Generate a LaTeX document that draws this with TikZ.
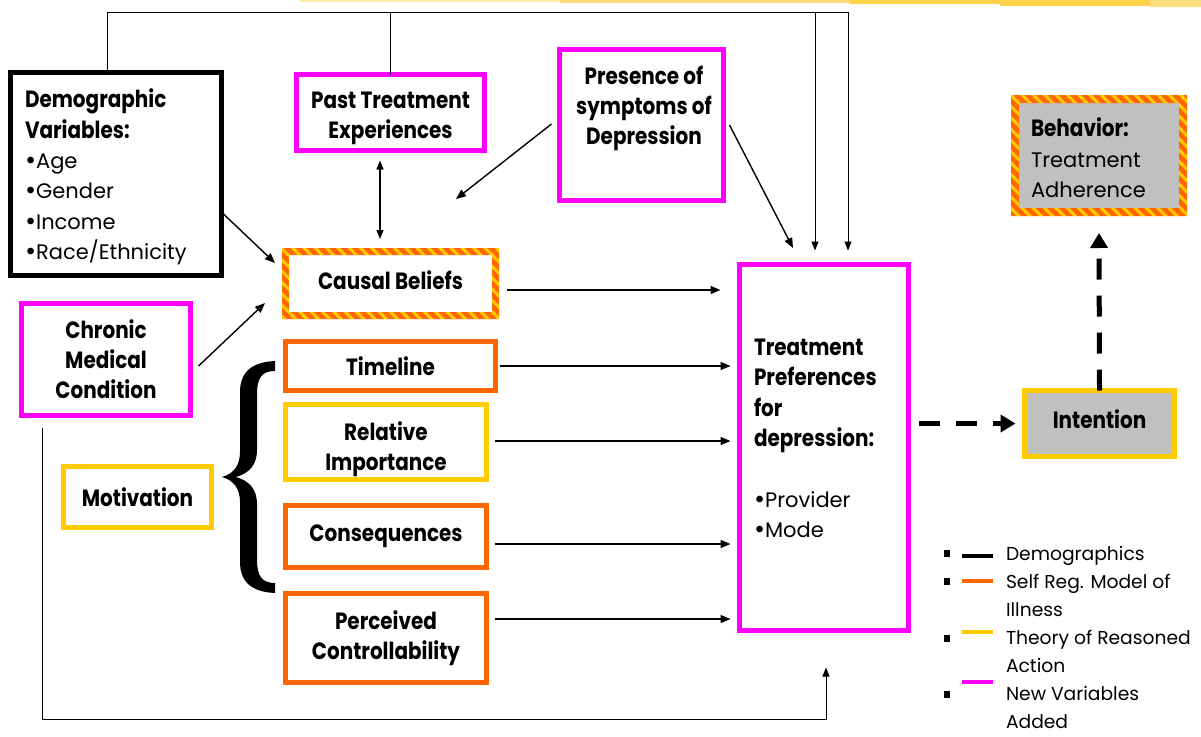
\documentclass[tikz,border=0pt]{standalone}
\usepackage{fontspec}
\setmainfont{Poppins}[FakeStretch=0.85]
\newfontfamily\regfam{Poppins}
\usetikzlibrary{arrows.meta,patterns.meta}
\definecolor{mag}{HTML}{FF00FF}
\definecolor{orng}{HTML}{FF6600}
\definecolor{yel}{HTML}{FFCC00}
\definecolor{gry}{HTML}{C0C0C0}
\definecolor{streak}{HTML}{FFD24A}
\newcommand\lblfont{\rmfamily\bfseries\fontsize{23.5}{30}\selectfont}
\newcommand\regfont{\regfam\fontsize{21}{30.4}\selectfont}
\newcommand\legfont{\regfam\fontsize{18.7}{28.3}\selectfont}
\newcommand\bul{\raisebox{-1pt}{\fontsize{27}{30}\selectfont\textbullet}}
\newcommand\stripeframe[2]{%
  \fill[orng, even odd rule] (#1.north west) rectangle (#1.south east)
    ([xshift=#2,yshift=-#2]#1.north west) rectangle ([xshift=-#2,yshift=#2]#1.south east);
  \fill[pattern={Lines[angle=-45,distance=8pt,line width=3pt]}, pattern color=yel, even odd rule]
    (#1.north west) rectangle (#1.south east)
    ([xshift=#2,yshift=-#2]#1.north west) rectangle ([xshift=-#2,yshift=#2]#1.south east);}
\tikzset{
  every node/.style={inner sep=0pt, outer sep=0pt},
  bx/.style={draw, line width=5pt, align=center, font=\lblfont},
  magbox/.style={bx, draw=mag},
  orbox/.style={bx, draw=orng},
  yelbox/.style={bx, draw=yel},
  txt/.style={align=center, font=\lblfont},
  arr/.style={line width=1.4pt, -{Triangle[length=10pt,width=8pt]}},
  thin/.style={line width=1pt},
  thinarr/.style={line width=1pt, -{Triangle[length=9pt,width=7pt]}},
  dbl/.style={line width=1.2pt, {Triangle[length=9pt,width=7pt]}-{Triangle[length=9pt,width=7pt]}},
  dasharr/.style={line width=5pt, dash pattern=on 21pt off 16pt, -{Triangle[length=15pt,width=17pt]}},
  legline/.style={line width=4pt},
  legsq/.style={fill=black, minimum width=6pt, minimum height=7pt},
  legtxt/.style={font=\legfont, align=left, anchor=north west},
}
\begin{document}
\begin{tikzpicture}[x=1pt,y=-1pt]
\useasboundingbox[fill=white] (0,0) rectangle (1201,736);
% decorative streak at top
\fill[streak!50] (300,0) rectangle (560,2);
\fill[streak!75] (560,0) rectangle (850,3);
\fill[streak] (850,0) rectangle (1201,4);
\fill[streak] (1000,0) rectangle (1201,6);
\fill[streak!70] (1150,0) rectangle (1201,7);

% boxes
\node[bx, draw=black, minimum width=211pt, minimum height=203pt] (dem) at (116,174) {};
\node[align=left, font=\regfont, anchor=west] (demtxt) at (25,177)
  {{\lblfont Demographic}\\{\lblfont Variables:}\\\bul Age\\\bul Gender\\\bul Income\\\bul Race/Ethnicity};
\node[magbox, minimum width=188pt, minimum height=76pt] (past) at (390.5,112.5) {};
\node[txt] (pasttxt) at (390.5,118.5) {Past Treatment\\Experiences};
\node[magbox, minimum width=164pt, minimum height=151pt] (pres) at (641.5,125) {};
\node[txt] (prestxt) at (644,108) {Presence of\\symptoms of\\Depression};
\node[fill=white, minimum width=217pt, minimum height=71pt] (cb) at (390.5,283.5) {};
\stripeframe{cb}{7pt}
\node[txt] (cbtxt) at (390.5,280) {Causal Beliefs};
\node[magbox, minimum width=169pt, minimum height=112pt] (chr) at (106,359.5) {Chronic\\Medical\\Condition};
\node[orbox, minimum width=210pt, minimum height=49pt] (tl) at (390.5,366) {Timeline};
\node[yelbox, minimum width=201pt, minimum height=75pt] (rel) at (386,442) {};
\node[txt] (reltxt) at (386,449) {Relative\\Importance};
\node[yelbox, minimum width=148pt, minimum height=61pt] (mot) at (137.5,497) {Motivation};
\node[orbox, minimum width=201pt, minimum height=62pt] (cons) at (386,536.5) {Consequences};
\node[orbox, minimum width=201pt, minimum height=89pt] (perc) at (386,638) {Perceived\\Controllability};
\node[magbox, minimum width=169pt, minimum height=366pt] (tp) at (824,447.5) {};
\node[align=left, font=\regfont, anchor=west] (tptxt) at (754,439)
  {{\lblfont Treatment}\\{\lblfont Preferences}\\{\lblfont for}\\{\lblfont depression:}\\\mbox{}\\\bul Provider\\\bul Mode};
\node[yelbox, fill=gry, minimum width=150pt, minimum height=66pt] (int) at (1099.5,423.5) {};
\node[txt] (inttxt) at (1099.5,419) {Intention};
\node[fill=gry, minimum width=176pt, minimum height=121pt] (beh) at (1099,155.5) {};
\stripeframe{beh}{8pt}
\node[align=left, font=\regfont, anchor=west] (behtxt) at (1031,158)
  {{\lblfont Behavior:}\\Treatment\\Adherence};

% brace
\fill[black] (275,361) .. controls (252,362) and (240,372) .. (240,392)
  -- (240,452) .. controls (240,466) and (233,474) .. (222,477)
  .. controls (233,480) and (240,488) .. (240,502)
  -- (240,562) .. controls (240,582) and (252,592) .. (275,593)
  -- (275,583) .. controls (262,583) and (257,576) .. (257,560)
  -- (257,504) .. controls (257,490) and (250,481) .. (236,477)
  .. controls (250,473) and (257,464) .. (257,450)
  -- (257,394) .. controls (257,378) and (262,371) .. (275,371) -- cycle;

% top feedback lines
\coordinate (topY) at (0,12);
\draw[thin] (dem.north -| 107,0) -- (107,12) -- (848,12);
\draw[thin] (past.north) -- (past.north |- topY);
\draw[thinarr] (815,12) -- ([yshift=14pt]tp.north -| 815,0);
\draw[thinarr] (848,12) -- ([yshift=14pt]tp.north -| 848,0);

% arrows
\draw[arr] ([xshift=2pt]dem.east |- 0,214) -- (275,263);
\draw[dbl] ([yshift=-10pt]past.south -| 380,0) -- ([yshift=9pt]cb.north -| 380,0);
\draw[arr] ([xshift=-8pt]pres.west |- 0,124) -- (456,199);
\draw[arr] ([xshift=6pt]pres.east |- 0,125) -- (793,248);
\draw[arr] ([xshift=8pt]chr.east |- 0,366) -- (265,303);
\draw[arr] ([xshift=8pt]cb.east |- 0,290) -- ([xshift=-19pt]tp.west |- 0,290);
\draw[arr] ([xshift=4pt]tl.east) -- ([xshift=-9pt]tp.west |- tl.east);
\draw[arr] ([xshift=8pt]rel.east |- 0,441) -- ([xshift=-9pt]tp.west |- 0,441);
\draw[arr] ([xshift=8pt]cons.east |- 0,544) -- ([xshift=-9pt]tp.west |- 0,544);
\draw[arr] ([xshift=8pt]perc.east |- 0,619) -- ([xshift=-9pt]tp.west |- 0,619);
\draw[thinarr] ([yshift=-12pt]chr.south -| 42,0) -- (42,719) -- (826,719) -- ([yshift=-37pt]tp.south -| 826,0);

% dashed arrows
\draw[dasharr] ([xshift=10pt]tp.east |- int.west) -- ([xshift=-9pt]int.west);
\draw[dasharr] (int.north) -- ([yshift=-17pt]beh.south);

% legend
\node[legsq] (s1) at (947,553) {};
\node[legsq] (s2) at (947,581) {};
\node[legsq] (s3) at (947,638) {};
\node[legsq] (s4) at (947,694) {};
\draw[legline, black] (962,556) -- (993,556);
\draw[legline, orng] (962,581) -- (993,581);
\draw[legline, yel] (962,632) -- (993,632);
\draw[legline, mag] (962,682) -- (993,682);
\node[legtxt] (l1) at (1006,546) {Demographics};
\node[legtxt] (l2) at (1006,574) {Self Reg. Model of\\Illness};
\node[legtxt] (l3) at (1006,630) {Theory of Reasoned\\Action};
\node[legtxt] (l4) at (1006,686) {New Variables\\Added};
\end{tikzpicture}
\end{document}
